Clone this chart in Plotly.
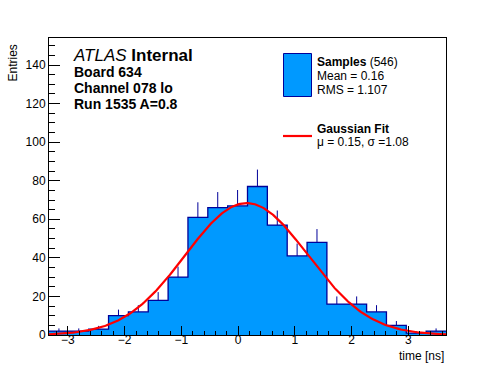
import numpy as np
import plotly.graph_objects as go

# ---- data ----
x_min = -3.334
bin_width = 0.35
counts = [2, 2, 3, 10, 12, 18, 30, 61, 66, 67, 77, 57, 41, 48, 16, 16, 12, 5, 1, 2]
fit_mu = 0.15
fit_sigma = 1.08
fit_amp = 68.4
y_max = 154
x_ticks = [-3, -2, -1, 0, 1, 2, 3]
x_tick_labels = ["\u22123", "\u22122", "\u22121", "0", "1", "2", "3"]
y_ticks = [0, 20, 40, 60, 80, 100, 120, 140]

n_bins = len(counts)
edges = [x_min + i * bin_width for i in range(n_bins + 1)]
centers = [(edges[i] + edges[i + 1]) / 2 for i in range(n_bins)]
errors = [np.sqrt(c) for c in counts]
x_max = edges[-1]

FILL = "rgb(0,153,255)"
NAVY = "rgb(0,0,153)"
FONT = "Liberation Sans, Arial, Helvetica, sans-serif"

fig = go.Figure()
# histogram fill
fig.add_trace(go.Bar(x=centers, y=counts, width=bin_width, marker=dict(color=FILL, line=dict(width=0)),
                     showlegend=False, hoverinfo="skip"))
# error bars (upper part visible)
fig.add_trace(go.Scatter(x=centers, y=counts, mode="markers", marker=dict(size=0.1, color=NAVY),
                         error_y=dict(type="data", symmetric=False, array=errors,
                                      arrayminus=[0] * n_bins, color=NAVY, thickness=1, width=0),
                         showlegend=False, hoverinfo="skip"))
# outline (steps)
fig.add_trace(go.Scatter(x=edges, y=counts + [counts[-1]], mode="lines", line_shape="hv",
                         line=dict(color=NAVY, width=1.3), showlegend=False, hoverinfo="skip"))
# gaussian fit curve
xf = np.linspace(x_min, x_max, 300)
yf = fit_amp * np.exp(-0.5 * ((xf - fit_mu) / fit_sigma) ** 2)
fig.add_trace(go.Scatter(x=xf, y=yf, mode="lines", line=dict(color="red", width=2.2),
                         showlegend=False, hoverinfo="skip"))

L, R, T, B = 49, 50, 38, 37
W, H = 496, 372
pw, ph = W - L - R, H - T - B


def px(x):
    return (x - L) / pw


def py(y):
    return (H - B - y) / ph


anns = []


def txt(s, x, y, size, xanchor="left", yanchor="middle", textangle=0):
    anns.append(dict(text=s, x=px(x), y=py(y), xref="paper", yref="paper", showarrow=False,
                     xanchor=xanchor, yanchor=yanchor, textangle=textangle,
                     font=dict(family=FONT, size=size, color="black")))


txt("<i>ATLAS</i> <b>Internal</b>", 71, 56, 17)
txt("<b>Board 634</b>", 72, 72, 14)
txt("<b>Channel 078 lo</b>", 72, 88, 14)
txt("<b>Run 1535 A=0.8</b>", 72, 104, 14)

txt("<b>Samples</b> (546)", 315, 62, 12)
txt("Mean = 0.16", 315, 76, 12)
txt("RMS = 1.107", 315, 90, 12)
txt("<b>Gaussian Fit</b>", 315, 129, 12)
txt("\u03bc = 0.15, \u03c3 =1.08", 315, 142, 12)

txt("time [ns]", 446, 356, 12, xanchor="right")
txt("Entries", 12, 43, 12, xanchor="center", yanchor="top", textangle=-90)

shapes = [
    dict(type="rect", xref="paper", yref="paper", x0=px(283.5), x1=px(311.5), y0=py(53.5), y1=py(96.5),
         fillcolor=FILL, line=dict(color=NAVY, width=1)),
    dict(type="line", xref="paper", yref="paper", x0=px(283), x1=px(312), y0=py(136), y1=py(136),
         line=dict(color="red", width=2.2)),
]

fig.update_layout(
    width=W, height=H, margin=dict(l=L, r=R, t=T, b=B, pad=0),
    paper_bgcolor="white", plot_bgcolor="white",
    font=dict(family=FONT, size=12, color="black"),
    bargap=0, annotations=anns, shapes=shapes,
    xaxis=dict(range=[x_min, x_max], tickvals=x_ticks, ticktext=x_tick_labels,
               ticks="inside", ticklen=9, tickwidth=1, tickcolor="black", ticklabelstandoff=-6,
               minor=dict(dtick=0.2, tick0=0, ticks="inside", ticklen=4.5, tickcolor="black", tickwidth=1, showgrid=False),
               showline=True, linecolor="black", linewidth=1, mirror=True, showgrid=False, zeroline=False,
               tickfont=dict(size=12), fixedrange=True),
    yaxis=dict(range=[0, y_max], tickvals=y_ticks,
               ticks="inside", ticklen=11, tickwidth=1, tickcolor="black",
               minor=dict(dtick=5, tick0=0, ticks="inside", ticklen=5.5, tickcolor="black", tickwidth=1, showgrid=False),
               showline=True, linecolor="black", linewidth=1, mirror=True, showgrid=False, zeroline=False,
               tickfont=dict(size=12), fixedrange=True),
)

fig.write_html("out.html", post_script="document.body.style.margin='0';",
               config={"displayModeBar": False})
